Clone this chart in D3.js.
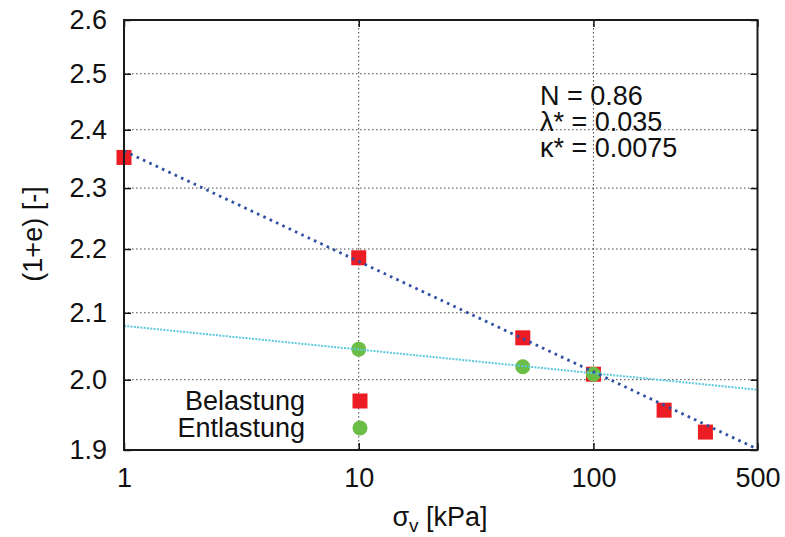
<!DOCTYPE html>
<html>
<head>
<meta charset="utf-8">
<script src="https://cdn.jsdelivr.net/npm/d3@7"></script>
<style>
  html, body { margin: 0; padding: 0; background: #fff; }
  svg { display: block; }
  text { font-family: "Liberation Sans", Arial, Helvetica, sans-serif; fill: #111; }
</style>
</head>
<body>
<svg id="chart" width="785" height="537"></svg>
<script>
// Oedometer test: loading / unloading points (sigma_v in kPa, 1+e)
const loadStress   = [1, 10, 50, 100, 200, 300];
const loadVoid     = [2.352, 2.186, 2.062, 2.008, 1.956, 1.925];
const unloadStress = [10, 50, 100];
const unloadVoid   = [2.045, 2.019, 2.008];

// Model parameters: ln(1+e) = N - lambda* ln(sigma), unloading slope kappa*
const N = 0.86;
const lambdaStar = 0.035;
const kappaStar = 0.0075;
// Unloading line passes through the reversal point at 100 kPa
const unloadRef = { s: 100, v: 2.0095 };

const xTicks = [1, 10, 100, 500];
const yTicks = [1.9, 2.0, 2.1, 2.2, 2.3, 2.4, 2.5, 2.6];
const xGrid = [10, 100];
const yGrid = [2.0, 2.1, 2.2, 2.3, 2.4, 2.5];
const legendItems = ["Belastung", "Entlastung"];
const annotation = ["N = 0.86", "λ* = 0.035", "κ* = 0.0075"];

const plotL = 124, plotR = 757.5, plotT = 20, plotB = 450;
const svg = d3.select("#chart");

const x = d3.scaleLog().domain([1, 500]).range([plotL, plotR]);
const y = d3.scaleLog().domain([1.9, 2.6]).range([plotB, plotT]);

const fs = 27;

// grid
const grid = svg.append("g").attr("stroke", "#444").attr("stroke-width", 1)
  .attr("stroke-dasharray", "1.5,2.5");
grid.selectAll("line.gx").data(xGrid).join("line")
  .attr("x1", d => x(d)).attr("x2", d => x(d)).attr("y1", plotT).attr("y2", plotB);
grid.selectAll("line.gy").data(yGrid).join("line")
  .attr("x1", plotL).attr("x2", plotR).attr("y1", d => y(d)).attr("y2", d => y(d));

// axes with inward ticks
const fmtY = d3.format(".1f");
const axL = svg.append("g").attr("transform", `translate(${plotL},0)`)
  .call(d3.axisLeft(y).tickValues(yTicks).tickFormat(fmtY).tickSize(-7).tickPadding(17));
const axR = svg.append("g").attr("transform", `translate(${plotR},0)`)
  .call(d3.axisRight(y).tickValues(yTicks).tickFormat("").tickSize(-7));
const axB = svg.append("g").attr("transform", `translate(0,${plotB})`)
  .call(d3.axisBottom(x).tickValues(xTicks).tickFormat(d3.format("d")).tickSize(-7).tickPadding(18));
const axT = svg.append("g").attr("transform", `translate(0,${plotT})`)
  .call(d3.axisTop(x).tickValues(xTicks).tickFormat("").tickSize(-7));
[axL, axR, axB, axT].forEach(a => {
  a.select(".domain").remove();
  a.selectAll(".tick line").attr("stroke", "#111").attr("stroke-width", 1.5);
  a.selectAll(".tick text").attr("font-size", fs).attr("fill", "#111")
    .attr("font-family", "\"Liberation Sans\", Arial, Helvetica, sans-serif");
});

// markers
const red = "#ec1c24", green = "#6bbd45";
const sq = 15;
svg.append("g").selectAll("rect").data(loadStress).join("rect")
  .attr("x", (d) => x(d) - sq / 2)
  .attr("y", (d, i) => y(loadVoid[i]) - sq / 2)
  .attr("width", sq).attr("height", sq).attr("fill", red);
svg.append("g").selectAll("circle").data(unloadStress).join("circle")
  .attr("cx", d => x(d))
  .attr("cy", (d, i) => y(unloadVoid[i]))
  .attr("r", 7.5).attr("fill", green);

// model lines
const sRange = x.domain();
const loadLine = sRange.map(s => [s, Math.exp(N - lambdaStar * Math.log(s))]);
const unloadLine = sRange.map(s => [s, unloadRef.v * Math.exp(-kappaStar * Math.log(s / unloadRef.s))]);
const line = d3.line().x(d => x(d[0])).y(d => y(d[1]));

svg.append("path").datum(unloadLine).attr("d", line)
  .attr("fill", "none").attr("stroke", "#5cc9df").attr("stroke-width", 2)
  .attr("stroke-dasharray", "2,1.3");
svg.append("path").datum(loadLine).attr("d", line)
  .attr("fill", "none").attr("stroke", "#2f50a3").attr("stroke-width", 2.8)
  .attr("stroke-dasharray", "2.6,4.4");

// frame
svg.append("rect").attr("x", plotL).attr("y", plotT)
  .attr("width", plotR - plotL).attr("height", plotB - plotT)
  .attr("fill", "none").attr("stroke", "#1a1a1a").attr("stroke-width", 2);

// legend
const leg = svg.append("g");
leg.selectAll("text").data(legendItems).join("text")
  .attr("x", 305).attr("y", (d, i) => 410 + i * 27)
  .attr("text-anchor", "end").attr("font-size", fs).text(d => d);
leg.append("rect").attr("x", 360 - sq / 2).attr("y", 401 - sq / 2)
  .attr("width", sq).attr("height", sq).attr("fill", red);
leg.append("circle").attr("cx", 360).attr("cy", 428).attr("r", 7.5).attr("fill", green);

// parameter annotation
svg.append("g").selectAll("text").data(annotation).join("text")
  .attr("x", 540).attr("y", (d, i) => 105 + i * 26)
  .attr("font-size", fs).text(d => d);

// axis titles
const xt = svg.append("text").attr("x", 440).attr("y", 526)
  .attr("text-anchor", "middle").attr("font-size", fs);
xt.append("tspan").text("σ");
xt.append("tspan").attr("font-size", 19).attr("dy", 6).text("v");
xt.append("tspan").attr("dy", -6).text(" [kPa]");

svg.append("text").attr("transform", "translate(42,234) rotate(-90)")
  .attr("text-anchor", "middle").attr("font-size", fs).text("(1+e) [-]");
</script>
</body>
</html>
